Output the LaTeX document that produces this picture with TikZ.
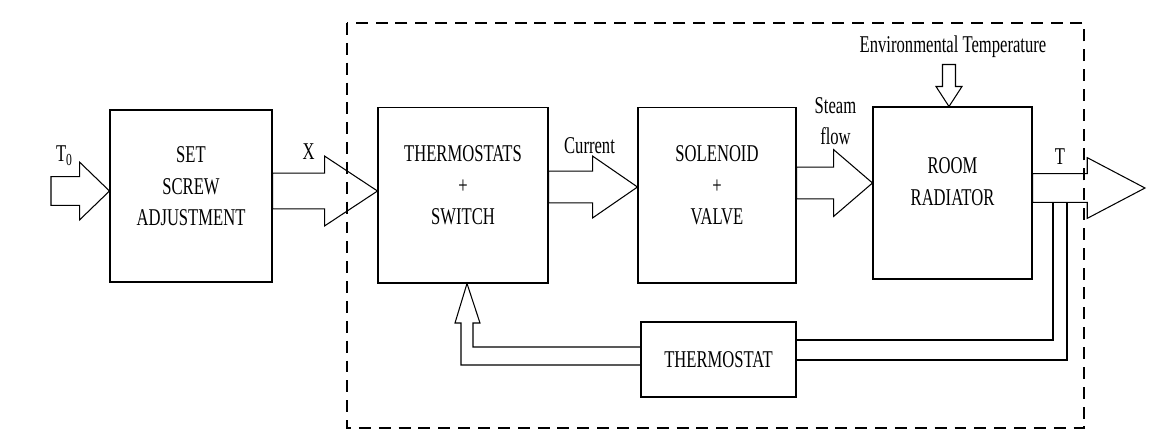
\documentclass[tikz,border=0pt]{standalone}
\usepackage{fontspec}
\setmainfont{Liberation Serif}[FakeStretch=0.69]
\usetikzlibrary{calc}
\tikzstyle{block}=[draw, align=center, inner sep=0pt]
\newcommand{\block}{\node[block]}
\newcommand{\upx}{0.5669pt}
% hollow arrow: tail, tip, half shaft, half head, head length (px)
\newcommand{\fatarrow}[5]{%
  \draw let \p1=#1, \p2=#2 in
    (\x1,{\y2+#3*\upx}) -- ({\x2-#5*\upx},{\y2+#3*\upx})
    -- ({\x2-#5*\upx},{\y2+#4*\upx}) -- (\p2)
    -- ({\x2-#5*\upx},{\y2-#4*\upx}) -- ({\x2-#5*\upx},{\y2-#3*\upx})
    -- (\x1,{\y2-#3*\upx}) -- cycle;}

\begin{document}
\begin{tikzpicture}[x=0.02cm, y=-0.02cm, line width=0.6pt,
    font=\fontsize{13.7}{18}\selectfont]
    \useasboundingbox (0,0) rectangle (1174,441);
    % blocks
    \block (set) at (191,196) [minimum width=3.24cm, minimum height=3.44cm, text depth=11pt] {SET\\SCREW\\ADJUSTMENT};
    \block (thermostats) at (463,195) [minimum width=3.40cm, minimum height=3.52cm, text depth=11pt] {THERMOSTATS\\+\\SWITCH};
    \block (solenoid) at (717,195) [minimum width=3.16cm, minimum height=3.52cm, text depth=11pt] {SOLENOID\\+\\VALVE};
    \block (radiator) at (952.5,193) [minimum width=3.18cm, minimum height=3.44cm, text depth=13pt] {ROOM\\RADIATOR};
    \block (thermostat) at (718.5,359.5) [minimum width=3.10cm, minimum height=1.50cm] {THERMOSTAT};
    % system boundary
    \draw[dash pattern=on 6.8pt off 4.5pt] (347,23) rectangle (1084,428);
    % labels
    \node (t0label) at (64.5,156) {T\textsubscript{0}};
    \node (xlabel) at (308.5,152) {X};
    \node (curlabel) at (589.5,146) {Current};
    \node[align=center] (steamlabel) at (835.5,121) {Steam\\flow};
    \node (tlabel) at (1060,157) {T};
    \node (envlabel) at (953,47) {Environmental Temperature};
    % hollow arrows
    \coordinate (t0tail) at (51,191);
    \coordinate (tout) at (1145,188);
    \fatarrow{(t0tail)}{($(set.west)+(0,-5)$)}{14.5}{29}{30}
    \fatarrow{(set.east)}{($(thermostats.west)+(0,-4)$)}{18}{35}{53}
    \fatarrow{(thermostats.east)}{($(solenoid.west)+(0,-8)$)}{16}{31}{45}
    \fatarrow{(solenoid.east)}{($(radiator.west)+(0,-10)$)}{16}{33.5}{39}
    \fatarrow{(radiator.east)}{(tout)}{14.5}{30.5}{58}
    \coordinate (envtip) at ($(radiator.north)+(-3.5,0)$);
    \draw[shift={(envtip)}] (-6.5,-42) -- (-6.5,-20) -- (-13,-20) -- (0,0)
        -- (13,-20) -- (6.5,-20) -- (6.5,-42) -- cycle;
    % feedback
    \coordinate (fbA) at (1053,202);
    \coordinate (fbB) at (1067,202);
    \draw (fbA) |- (thermostat.east |- 0,340);
    \draw (fbB) |- (thermostat.east |- 0,360);
    \draw (thermostat.west |- 0,347) -| (473,323) -- (480,323)
        -- ($(thermostats.south)+(4,0)$) -- (455,323) -- (461,323)
        |- (thermostat.west |- 0,365);
\end{tikzpicture}
\end{document}
